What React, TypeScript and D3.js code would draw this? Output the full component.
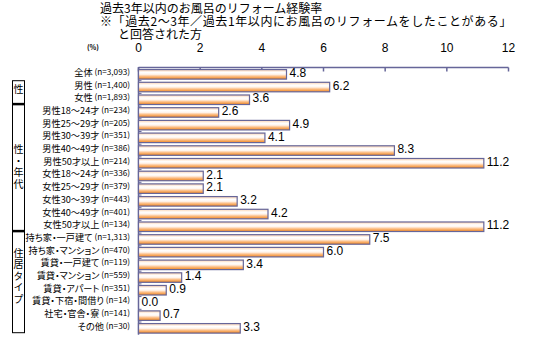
import React from "react";
import * as d3 from "d3";

const titleLines = [
  "過去3年以内のお風呂のリフォーム経験率",
  "※「過去2～3年／過去1年以内にお風呂のリフォームをしたことがある」",
  "と回答された方",
];

const categories = [
  "全体 (n=3,093)",
  "男性 (n=1,400)",
  "女性 (n=1,893)",
  "男性18～24才 (n=234)",
  "男性25～29才 (n=205)",
  "男性30～39才 (n=351)",
  "男性40～49才 (n=386)",
  "男性50才以上 (n=214)",
  "女性18～24才 (n=336)",
  "女性25～29才 (n=379)",
  "女性30～39才 (n=443)",
  "女性40～49才 (n=401)",
  "女性50才以上 (n=134)",
  "持ち家・一戸建て (n=1,313)",
  "持ち家・マンション (n=470)",
  "賃貸・一戸建て (n=119)",
  "賃貸・マンション (n=559)",
  "賃貸・アパート (n=351)",
  "賃貸・下宿・間借り (n=14)",
  "社宅・官舎・寮 (n=141)",
  "その他 (n=30)",
];

const values = [4.8, 6.2, 3.6, 2.6, 4.9, 4.1, 8.3, 11.2, 2.1, 2.1, 3.2, 4.2, 11.2, 7.5, 6.0, 3.4, 1.4, 0.9, 0.0, 0.7, 3.3];

const xTicks = [0, 2, 4, 6, 8, 10, 12];

const groups = [
  { label: "性", from: 1, to: 2 },
  { label: "性・年代", from: 3, to: 12 },
  { label: "住居タイプ", from: 13, to: 20 },
];

const FONT = "'Noto Sans CJK JP', 'Noto Sans', sans-serif";
const NUMFONT = "'Liberation Sans', Arial, sans-serif";
const AXIS = "#666699";

export default function App() {
  const x = d3.scaleLinear().domain([0, 12]).range([138.5, 508.5]);
  const y = d3
    .scaleBand<string>()
    .domain(categories)
    .range([68, 334.7])
    .paddingInner(0.25)
    .paddingOuter(0.125);
  const step = y.step();
  const bandStart = (i: number) => 68 + i * step;

  return (
    <svg
      width={534}
      height={352}
      style={{ position: "absolute", left: 0, top: 0, background: "#fff" }}
      fontFamily={FONT}
    >
      <defs>
        <linearGradient id="barGrad" x1="0" y1="0" x2="0" y2="1">
          <stop offset="0" stopColor="#fbd2b0" />
          <stop offset="0.3" stopColor="#ffffff" />
          <stop offset="0.5" stopColor="#fff4ec" />
          <stop offset="0.7" stopColor="#fcc08a" />
          <stop offset="1" stopColor="#f0851c" />
        </linearGradient>
      </defs>

      {/* title */}
      <text fontSize={12} fill="#000">
        <tspan x={100} y={12.5}>{titleLines[0]}</tspan>
        <tspan x={100} y={26} letterSpacing={0.6}>{titleLines[1]}</tspan>
        <tspan x={118} y={39}>{titleLines[2]}</tspan>
      </text>

      {/* unit */}
      <text x={93} y={50} fontSize={7} fontWeight="bold" textAnchor="middle">
        (%)
      </text>

      {/* x tick labels */}
      {xTicks.map((t) => (
        <text key={t} x={x(t)} y={52} fontSize={12} textAnchor="middle" fontFamily={NUMFONT}>
          {t}
        </text>
      ))}

      {/* top axis */}
      <line x1={x(0)} x2={x(12)} y1={67.5} y2={67.5} stroke={AXIS} strokeWidth={1.5} />
      {xTicks.map((t) => (
        <line key={t} x1={x(t)} x2={x(t)} y1={67.5} y2={71.5} stroke={AXIS} strokeWidth={1.5} />
      ))}

      {/* left axis */}
      <line x1={x(0)} x2={x(0)} y1={67} y2={334.7} stroke={AXIS} strokeWidth={1.5} />
      {categories.map((c, i) =>
        i > 0 ? (
          <line key={c} x1={x(0)} x2={x(0) + 3} y1={bandStart(i)} y2={bandStart(i)} stroke={AXIS} strokeWidth={1} />
        ) : null
      )}

      {/* bars */}
      {categories.map((c, i) => (
        <rect
          key={c}
          x={x(0)}
          y={y(c)!}
          width={x(values[i]) - x(0)}
          height={y.bandwidth()}
          fill="url(#barGrad)"
          stroke={AXIS}
          strokeWidth={1.2}
        />
      ))}

      {/* value labels */}
      {categories.map((c, i) => (
        <text
          key={c}
          x={x(values[i]) + 3}
          y={y(c)! + y.bandwidth() / 2 - 0.5}
          dominantBaseline="middle"
          fontSize={12}
          fontFamily={NUMFONT}
        >
          {values[i].toFixed(1)}
        </text>
      ))}

      {/* category labels */}
      {categories.map((c) => {
        const k = c.indexOf(" (");
        const name = c.slice(0, k);
        const n = c.slice(k);
        return (
          <text
            key={c}
            x={130}
            y={y(c)! + y.bandwidth() / 2 - 1.5}
            dominantBaseline="middle"
            textAnchor="end"
            style={{ fontFeatureSettings: "'palt' 1" }}
          >
            <tspan fontSize={9.2}>{name}</tspan>
            <tspan fontSize={8.2}>{n}</tspan>
          </text>
        );
      })}

      {/* group boxes */}
      {groups.map((g, gi) => {
        const top = bandStart(g.from) + (gi === 0 ? 0 : -2);
        const bottom = bandStart(g.to + 1) - 2;
        const cy = gi === 0 ? top + 9 : (top + bottom) / 2 - (gi === 2 ? 5 : 0);
        return (
          <g key={g.label}>
            <rect x={12.5} y={top} width={12} height={bottom - top} fill="none" stroke="#000" strokeWidth={1} />
            {gi > 0 ? (
              <line x1={12} x2={25} y1={top} y2={top} stroke="#000" strokeWidth={2.5} />
            ) : null}
            <text
              x={18.5}
              y={cy}
              textAnchor="middle"
              fontSize={10}
              letterSpacing={1.5}
              style={{ writingMode: "vertical-rl", textOrientation: "upright" } as React.CSSProperties}
            >
              {g.label}
            </text>
          </g>
        );
      })}
    </svg>
  );
}
